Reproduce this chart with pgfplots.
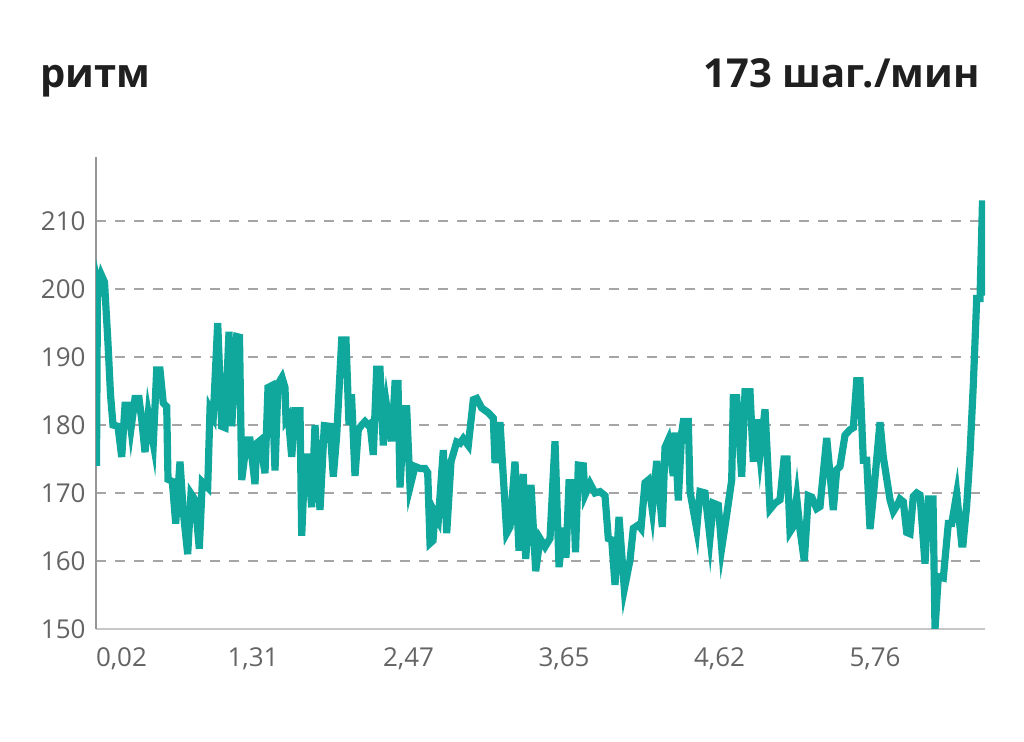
\documentclass[border=0pt]{standalone}
\usepackage{fontspec}
\setmainfont{Open Sans}
\usepackage{pgfplots}
\pgfplotsset{compat=1.18}
\definecolor{teal1}{RGB}{16,168,156}
\definecolor{tickgray}{RGB}{100,100,100}
\definecolor{gridgray}{RGB}{165,165,165}
\definecolor{axisgray}{RGB}{150,150,150}
\begin{document}
\begin{tikzpicture}
\useasboundingbox (0,0) rectangle (512bp,371bp);
\node[anchor=base west, font=\fontsize{20bp}{24bp}\selectfont\bfseries, text=black!88, inner sep=0] at (20bp,327bp) {ритм};
\node[anchor=base east, font=\fontsize{20bp}{24bp}\selectfont\bfseries, text=black!88, inner sep=0] at (490bp,327bp) {173 шаг./мин};
\begin{axis}[
  at={(48bp,56.5bp)}, anchor=south west,
  width=444.5bp, height=236bp, scale only axis,
  xmin=96, xmax=985, ymin=150, ymax=219.4,
  axis y line*=left, axis x line*=bottom,
  y axis line style={axisgray, line width=0.65bp},
  x axis line style={black!22, line width=0.8bp},
  ymajorgrids,
  grid style={gridgray, line width=0.7bp, dash pattern=on 5bp off 4.5bp},
  major tick length=0pt,
  ytick={150,160,170,180,190,200,210},
  xtick={96,253,408.5,564,719.5,875},
  xticklabels={{\rlap{0,02}},{1,31},{2,47},{3,65},{4,62},{5,76}},
  /pgf/number format/assume math mode=true,
  ticklabel style={font=\fontsize{13bp}{15bp}\selectfont, text=tickgray},
  yticklabel style={xshift=-1.7bp},
  xticklabel style={yshift=-6bp},
]
\addplot[teal1, line width=3.6bp, line join=miter, no markers] coordinates {
(96.5,174) (97.5,201) (99,200) (101.5,202) (104.5,201) (108,192) (110.5,184.5) (113,180)
(118,179.8) (121.7,175.3) (125,182.9) (128.3,182.9) (131,179.5) (135,183.9) (139,183.9)
(141.7,180.8) (145,176) (148.3,181.6) (153.3,177.3) (156.7,188.1) (160,188.1) (163.3,183.2)
(166.7,182.7) (168,172) (172.3,171.7) (175.7,165.5) (180,174.6) (183.3,167.2) (187.7,161)
(191,169.9) (195,169) (199.3,161.8) (202.3,171.6) (207.7,170.8) (210,182.3) (213.3,181.3)
(217.7,195) (221.7,179.8) (225,179.6) (229,193.7) (231.7,179.8) (236.7,193) (239.5,192.9)
(241.7,171.9) (246.7,177.8) (250,177.8) (255,171.3) (256.7,177.3) (260,177.7) (265,172.9)
(268,185.5) (272,185.8) (275,173.3) (278,186) (282,187) (285,185.5) (286,180.7) (288.3,181.2)
(291.7,175.3) (295,182.1) (300,182.1) (301.7,163.7) (305,175.3) (307.7,175.3) (311.7,167.9)
(315,180) (320,167.5) (324.3,179.9) (330,179.8) (333.3,172.4) (336.7,178.5) (341.7,192.5)
(346,192.5) (349,180) (351.5,184.5) (355,172.5) (358.3,179.3) (361.7,180) (365,180.5)
(368,180) (370,180.2) (373.3,175.6) (376.7,188.2) (380,188.2) (383.3,177) (386.7,182.7)
(391.7,177.6) (395,186.1) (398,186.1) (400,170.8) (404.3,182.4) (406.7,182.4) (410,170.9)
(415,173.9) (420,173.6) (425,173.6) (427.7,173) (430,162.6) (433,163) (435,167) (438.3,166)
(443.3,176.3) (446.7,164.1) (451,174.6) (456.7,177.5) (460,177.3) (463.3,178) (468.3,177)
(473.3,183.7) (476.7,183.9) (481.7,182.5) (488.3,181.8) (493.3,181) (495,174.4) (500,180.4)
(506.7,164.1) (510,165) (515,174.6) (519,161.5) (523.3,172.8) (525.7,160.3) (531,171.2)
(535.7,158.5) (540,163.3) (545,162.1) (550,163.3) (555,177.6) (559,159.1) (563.3,164.9)
(566,160.5) (569,171.5) (573,171.5) (575.5,161.3) (578.3,174.1) (583.3,174) (585,169.7)
(590,171.4) (595,170) (600,170.2) (605,169.6) (608.3,163.3) (611.7,163.1) (615,156.5)
(619,166.5) (624.3,155.9) (630,160.1) (633.3,164.8) (638.3,165.3) (641,164.8) (645,171.5)
(648.3,171.9) (652.3,167.5) (656.7,174.7) (662.3,165) (665,176.7) (668.3,177.8) (673.3,172.5)
(675,178.9) (678.3,168.9) (681.7,178.9) (683.3,180.5) (688.3,180.5) (690,170.2) (696.7,164.7)
(700,170.2) (705,170) (710,163.4) (713.3,168.5) (718.3,168.2) (721.7,161.9) (726.7,166.8)
(731.7,171.9) (733.3,184) (736.7,184) (741.7,172.4) (745,184.9) (750,184.9) (753.3,174.6)
(756.7,180.8) (760,175.7) (765,182.3) (770,167.6) (775,168.5) (780,169) (784,175) (787,175)
(790,164.3) (793,165) (796.7,169.3) (800,164.6) (804.3,160) (808.3,169.6) (811.7,169.4)
(816.7,167.7) (820,168) (826.7,178.1) (833.3,167.5) (836.7,173.4) (840,173.9) (845,178.5)
(850,179.3) (853.3,179.6) (856.7,186.5) (860,186.5) (863.3,174.8) (866.7,174.8) (870,164.7)
(873.3,169.5) (880,180.4) (883.3,175.3) (890,169) (893.3,167.3) (898.3,168.5) (900,169.1)
(903.3,168.7) (906.7,164.2) (910,164) (913.3,169.5) (916.7,170) (920,169.7) (925,159.6)
(928.3,169.1) (933,169.1) (935,150) (938.3,157.7) (943.3,157.5) (948.3,165.5) (951.7,165.5)
(956.7,169.9) (961.7,162.5) (963,162.5) (966.7,168.2) (970,175.8) (973.3,185.9) (976.7,198.6)
(980,198.6) (982.5,213) (984.5,199)
};
\end{axis}
\end{tikzpicture}
\end{document}
